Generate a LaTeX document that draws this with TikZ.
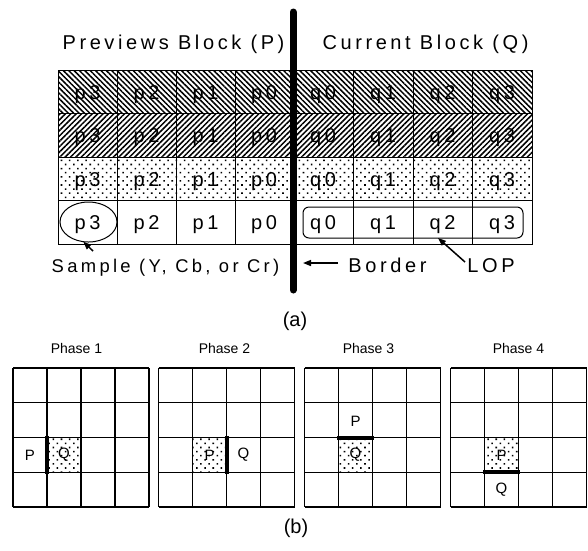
\documentclass[tikz,border=0pt]{standalone}
\usepackage{fontspec}
\setmainfont{Liberation Sans}
\newfontfamily\spacedfont[LetterSpace=18]{Liberation Sans}
\usetikzlibrary{patterns.meta,shapes.geometric,arrows.meta}
\begin{document}
\begin{tikzpicture}[x=1pt,y=-1pt,
  toptext/.style={font=\spacedfont\fontsize{20}{23}\selectfont, inner sep=0pt, anchor=base},
  smalltext/.style={font=\spacedfont\fontsize{18.4}{21}\selectfont, inner sep=0pt, anchor=base},
  phasetext/.style={font=\fontsize{14}{16}\selectfont, inner sep=0pt, anchor=base},
  pqtext/.style={font=\fontsize{15}{17}\selectfont, inner sep=0pt},
  captext/.style={font=\fontsize{20}{24}\selectfont, inner sep=0pt},
  hatchNW/.style={pattern={Lines[angle=-45,distance=3.8pt,line width=1.5pt]}},
  hatchNE/.style={pattern={Lines[angle=45,distance=3.8pt,line width=1.5pt]}},
  dotfill/.style={pattern={Dots[angle=45,distance=5.8pt,radius=1.1pt]}},
  nofill/.style={},
  cellline/.style={draw=black,line width=1pt},
  gridline/.style={draw=black,line width=1.3pt},
  thickline/.style={draw=black,line width=4pt},
  arr/.style={line width=1.5pt,-{Triangle[length=8pt,width=6pt]}}
]
\useasboundingbox (0,0) rectangle (588,550);
\fill[white] (0,0) rectangle (588,550);

% headings
\node[toptext] (prevh) at (173.5,49) {Previews Block (P)};
\node[toptext] (curh) at (425.5,49) {Current Block (Q)};

% table
\foreach \yt/\yb/\yl/\fillst [count=\r] in {70/113/99/hatchNW,113/157/142.5/hatchNE,157/200/186/dotfill,200/244/229.5/nofill} {
  \foreach \xl/\xr/\lab [count=\c] in {58/117/p3,117/176/p2,176/235/p1,235/293/p0,293/353/q0,353/413/q1,413/472/q2,472/532/q3} {
    \node[toptext] (c\r-\c) at ({(\xl+\xr)/2},\yl) {\lab};
    \path[\fillst] (\xl,\yt) rectangle (\xr,\yb);
    \draw[cellline] (\xl,\yt) rectangle (\xr,\yb);
  }
}

% sample ellipse and LOP box
\node[draw, line width=1pt, ellipse, minimum width=57pt, minimum height=40pt, inner sep=0pt, outer sep=0pt] (samp) at (88.5,222) {};
\node[draw, line width=1pt, rounded corners=6pt, minimum width=220pt, minimum height=31pt, inner sep=0pt, outer sep=0pt] (lopbox) at (413,222.5) {};

% border line
\coordinate (btop) at (293,12);
\coordinate (bbot) at (293,290);
\draw[line width=7pt, line cap=round] (btop) -- (bbot);

% bottom labels
\node[smalltext] (samplabel) at (165.5,272.5) {Sample (Y, Cb, or Cr)};
\node[toptext] (bordlabel) at (387.5,272.5) {Border};
\node[toptext] (loplabel) at (491,272.5) {LOP};

\coordinate (sampTail) at (93,251);
\draw[arr] (sampTail) -- (samp.255);
\coordinate (bordTail) at (338,263);
\coordinate (bordTip) at (303,263);
\draw[arr] (bordTail) -- (bordTip);
\coordinate (lopTail) at (465,262);
\coordinate (lopTip) at (438,238);
\draw[arr] (lopTail) -- (lopTip);

\node[captext] (capa) at (295,321) {(a)};
\node[captext] (capb) at (296,528) {(b)};

% phases
\node[phasetext] (ph1) at (76.5,353) {Phase 1};
\node[phasetext] (ph2) at (224.5,353) {Phase 2};
\node[phasetext] (ph3) at (368.5,353) {Phase 3};
\node[phasetext] (ph4) at (518.5,353) {Phase 4};

\path[dotfill] (47,437.5) rectangle (81,472.25);
\path[dotfill] (192.5,437.5) rectangle (226.5,472.25);
\path[dotfill] (338.5,437.5) rectangle (372.5,472.25);
\path[dotfill] (484.5,437.5) rectangle (518.5,472.25);

\foreach \xo in {13,158.5,304.5,450.5} {
  \foreach \i in {0,...,4} {
    \draw[gridline] (\xo+34*\i,368) -- (\xo+34*\i,507);
    \draw[gridline] (\xo,368+34.75*\i) -- (\xo+136,368+34.75*\i);
  }
}

\draw[thickline] (47,436) -- (47,474);
\draw[thickline] (226.5,436) -- (226.5,474);
\draw[thickline] (337,437.5) -- (374,437.5);
\draw[thickline] (483,472.25) -- (520,472.25);

\node[pqtext] (p1P) at (30,455) {P};
\node[pqtext] (p1Q) at (64,455) {Q};
\node[pqtext] (p2P) at (209.5,455) {P};
\node[pqtext] (p2Q) at (243.5,455) {Q};
\node[pqtext] (p3P) at (355.5,421) {P};
\node[pqtext] (p3Q) at (355.5,455) {Q};
\node[pqtext] (p4P) at (501.5,455) {P};
\node[pqtext] (p4Q) at (501.5,490) {Q};
\end{tikzpicture}
\end{document}
